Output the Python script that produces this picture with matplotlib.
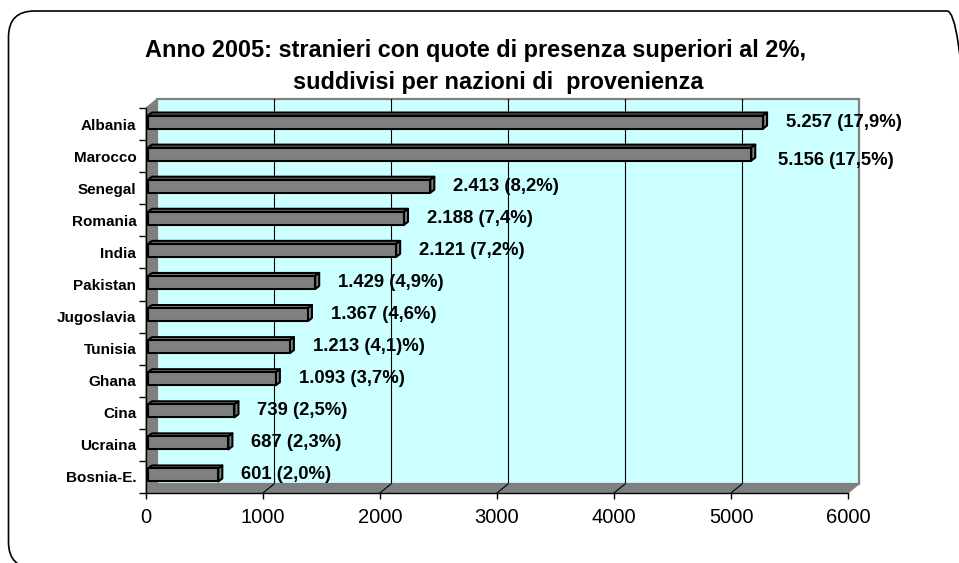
import matplotlib
matplotlib.use("Agg")
import matplotlib.pyplot as plt
from matplotlib.patches import Polygon, Rectangle, FancyBboxPatch
import numpy as np

plt.rcParams['font.family'] = ['Liberation Sans', 'DejaVu Sans']

# ---- data ----
countries = ["Albania", "Marocco", "Senegal", "Romania", "India", "Pakistan",
             "Jugoslavia", "Tunisia", "Ghana", "Cina", "Ucraina", "Bosnia-E."]
values = [5257, 5156, 2413, 2188, 2121, 1429, 1367, 1213, 1093, 739, 687, 601]
percent_labels = ["17,9%", "17,5%", "8,2%", "7,4%", "7,2%", "4,9%",
                  "4,6%", "4,1)%", "3,7%", "2,5%", "2,3%", "2,0%"]
value_texts = ["5.257", "5.156", "2.413", "2.188", "2.121", "1.429",
               "1.367", "1.213", "1.093", "739", "687", "601"]
xticks = [0, 1000, 2000, 3000, 4000, 5000, 6000]
title_line1 = "Anno 2005: stranieri con quote di presenza superiori al 2%,"
title_line2 = "suddivisi per nazioni di  provenienza"

W, H, DPI = 959, 563, 100
fig = plt.figure(figsize=(W / DPI, H / DPI), dpi=DPI)
fig.patch.set_facecolor("white")

# rounded frame
frame = FancyBboxPatch((8.5 / DPI, (H - 568) / DPI), (973 - 8.5) / DPI, (568 - 11) / DPI,
                       boxstyle="round,pad=0,rounding_size=0.26",
                       transform=fig.dpi_scale_trans, facecolor="none",
                       edgecolor="black", linewidth=1.2, clip_on=False)
fig.patches.append(frame)

# axes = front plane of the 3D plot
x0, x1, ytop, ybot = 146, 848, 108, 493
ax = fig.add_axes([x0 / W, (H - ybot) / H, (x1 - x0) / W, (ybot - ytop) / H])
ax.set_xlim(0, 6000)
n = len(countries)
ax.set_ylim(n - 0.5, -0.5)
ax.patch.set_visible(False)
for s in ["top", "right", "left", "bottom"]:
    ax.spines[s].set_visible(False)

ux = 6000 / (x1 - x0)       # data units per pixel (x)
uy = n / (ybot - ytop)      # data units per pixel (y, downward positive)

def sh(px, py):
    """pixel shift (right, up) -> data shift"""
    return px * ux, -py * uy

ddx, ddy = sh(11, 9)
xmin, xmax = 0, 6000
ymin_d, ymax_d = n - 0.5, -0.5   # bottom, top

grey = "#808080"
wall_c = "#CCFFFF"

# back wall
ax.add_patch(Polygon([(xmin + ddx, ymin_d + ddy), (xmax + ddx, ymin_d + ddy),
                      (xmax + ddx, ymax_d + ddy), (xmin + ddx, ymax_d + ddy)],
                     closed=True, facecolor=wall_c, edgecolor=grey, linewidth=1.6,
                     clip_on=False, zorder=1))
# gridlines on back wall
for xv in xticks[1:-1]:
    ax.plot([xv + ddx, xv + ddx], [ymin_d + ddy, ymax_d + ddy], color="black",
            lw=0.8, clip_on=False, zorder=1.5)
# left wall
ax.add_patch(Polygon([(xmin, ymin_d), (xmin, ymax_d), (xmin + ddx, ymax_d + ddy),
                      (xmin + ddx, ymin_d + ddy)], closed=True, facecolor=grey,
                     edgecolor=grey, linewidth=0.8, clip_on=False, zorder=2))
# floor
ax.add_patch(Polygon([(xmin, ymin_d), (xmax, ymin_d), (xmax + ddx, ymin_d + ddy),
                      (xmin + ddx, ymin_d + ddy)], closed=True, facecolor=grey,
                     edgecolor=grey, linewidth=0.8, clip_on=False, zorder=2))
for xv in xticks[1:-1]:
    ax.plot([xv, xv + ddx], [ymin_d, ymin_d + ddy], color="black", lw=0.8,
            clip_on=False, zorder=2.2)

# axis lines
ax.plot([xmin, xmin], [ymin_d, ymax_d], color="black", lw=1.0, clip_on=False, zorder=3)
ax.plot([xmin, xmax], [ymin_d, ymin_d], color="black", lw=1.0, clip_on=False, zorder=3)

# bars
bh = 13 * uy
bdx, bdy = sh(4, 3)
offx, offy = sh(2, 2)
for i, v in enumerate(values):
    yc = i + offy
    yt, yb = yc - bh / 2, yc + bh / 2
    xl, xr = 0 + offx, v + offx
    # top face
    ax.add_patch(Polygon([(xl, yt), (xr, yt), (xr + bdx, yt + bdy), (xl + bdx, yt + bdy)],
                         closed=True, facecolor=grey, edgecolor="black", lw=1.5,
                         joinstyle="round", clip_on=False, zorder=4))
    # right face
    ax.add_patch(Polygon([(xr, yt), (xr + bdx, yt + bdy), (xr + bdx, yb + bdy), (xr, yb)],
                         closed=True, facecolor=grey, edgecolor="black", lw=1.5,
                         joinstyle="round", clip_on=False, zorder=4))
    # front face
    ax.add_patch(Rectangle((xl, yt), v, bh, facecolor=grey, edgecolor="black", lw=1.5,
                           joinstyle="round", clip_on=False, zorder=5))
    # value label
    lab = f"{value_texts[i]} ({percent_labels[i]})"
    dxp, dyp = 25, 2
    if countries[i] == "Marocco":
        dxp, dyp = 29, -4
    ax.annotate(lab, (v, i), xytext=(dxp * 0.72, dyp * 0.72), textcoords="offset points",
                ha="left", va="center", fontsize=13.3, fontweight="bold", zorder=6,
                annotation_clip=False)

# ticks
ax.set_xticks(xticks)
ax.set_xticklabels([str(t) for t in xticks], fontsize=14.5)
ax.tick_params(axis="x", length=4.5, width=1.0, pad=6, color="black")
ax.set_yticks(np.arange(-0.5, n, 1.0))
ax.set_yticklabels([])
ax.tick_params(axis="y", which="major", length=5, width=1.0, color="black")
ax.set_yticks(np.arange(n), minor=True)
ax.set_yticklabels(countries, minor=True, fontsize=11, fontweight="bold")
ax.tick_params(axis="y", which="minor", length=0, pad=7)

# title
fig.text(475.5 / W, 1 - 50 / H, title_line1, ha="center", va="center",
         fontsize=16.9, fontweight="bold")
fig.text(498 / W, 1 - 83 / H, title_line2, ha="center", va="center",
         fontsize=16.9, fontweight="bold")

fig.savefig("out.png", dpi=DPI)
